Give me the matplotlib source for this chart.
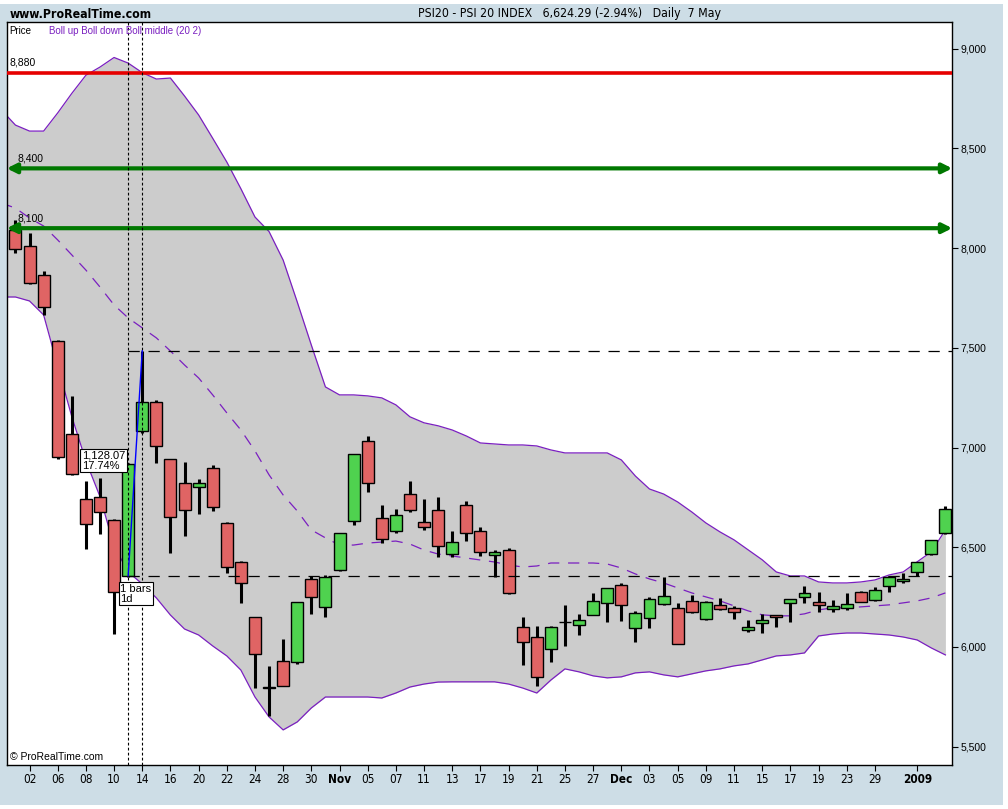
import numpy as np
import matplotlib
matplotlib.use("Agg")
import matplotlib.pyplot as plt
from matplotlib.patches import Rectangle

# daily candles (PSI 20), one per trading day
opens = [8091, 8011, 7864, 7534, 7067, 6742, 6751, 6637, 6356, 7083,
         7227, 6941, 6821, 6801, 6896, 6620, 6428, 6149, 5798, 5930,
         5926, 6339, 6199, 6385, 6630, 7034, 6645, 6580, 6767, 6625,
         6687, 6465, 6710, 6580, 6460, 6486, 6099, 6052, 5988, 6126,
         6109, 6162, 6219, 6311, 6094, 6144, 6214, 6197, 6229, 6140,
         6209, 6194, 6085, 6119, 6158, 6219, 6252, 6226, 6189, 6194,
         6278, 6233, 6306, 6329, 6375, 6465, 6570]
highs = [8141, 8074, 7885, 7540, 7259, 6830, 6847, 6640, 6920, 7485,
         7240, 6945, 6929, 6841, 6913, 6628, 6432, 6152, 5905, 6040,
         6226, 6356, 6360, 6572, 6968, 7058, 6712, 6690, 6832, 6742,
         6754, 6582, 6732, 6603, 6484, 6494, 6149, 6105, 6104, 6210,
         6165, 6272, 6296, 6319, 6181, 6249, 6349, 6219, 6261, 6231,
         6244, 6207, 6135, 6165, 6160, 6241, 6306, 6276, 6236, 6269,
         6280, 6299, 6355, 6369, 6427, 6538, 6707]
lows = [7974, 7820, 7665, 6945, 6860, 6490, 6565, 6064, 6352, 7075,
        6924, 6470, 6558, 6665, 6683, 6373, 6219, 5793, 5654, 5804,
        5916, 6164, 6149, 6383, 6610, 6779, 6520, 6573, 6678, 6587,
        6453, 6450, 6533, 6458, 6349, 6267, 5910, 5806, 5926, 6005,
        6059, 6160, 6127, 6132, 6027, 6097, 6212, 6013, 6169, 6135,
        6184, 6139, 6077, 6069, 6099, 6127, 6219, 6177, 6174, 6186,
        6225, 6231, 6277, 6322, 6356, 6463, 6568]
closes = [7994, 7827, 7706, 6951, 6866, 6615, 6676, 6277, 6916, 7227,
          7006, 6650, 6687, 6821, 6700, 6403, 6319, 5963, 5796, 5806,
          6224, 6249, 6353, 6570, 6966, 6821, 6540, 6663, 6685, 6600,
          6505, 6525, 6570, 6475, 6478, 6269, 6024, 5848, 6102, 6124,
          6135, 6229, 6294, 6209, 6169, 6239, 6256, 6016, 6174, 6224,
          6189, 6174, 6099, 6135, 6152, 6239, 6272, 6209, 6206, 6214,
          6227, 6286, 6353, 6339, 6425, 6536, 6690]

# Bollinger (20, 2), starting one day before the first candle
boll_up = [8693, 8617, 8587, 8587, 8678, 8776, 8867, 8908, 8956, 8928,
           8880, 8848, 8853, 8763, 8668, 8551, 8432, 8298, 8156, 8083,
           7940, 7730, 7514, 7304, 7264, 7264, 7259, 7249, 7214, 7154,
           7124, 7109, 7088, 7058, 7023, 7018, 7013, 7013, 7008, 6988,
           6973, 6973, 6973, 6973, 6938, 6857, 6792, 6767, 6727, 6677,
           6622, 6577, 6537, 6487, 6437, 6376, 6356, 6356, 6326, 6321,
           6321, 6326, 6336, 6361, 6376, 6427, 6477, 6587]
boll_down = [7755, 7755, 7735, 7665, 7408, 7155, 6933, 6754, 6506, 6376,
             6316, 6246, 6160, 6090, 6060, 6005, 5955, 5884, 5749, 5649,
             5584, 5624, 5694, 5749, 5749, 5749, 5749, 5744, 5769, 5799,
             5814, 5824, 5825, 5825, 5825, 5825, 5814, 5794, 5769, 5834,
             5890, 5875, 5855, 5845, 5850, 5870, 5875, 5860, 5850, 5865,
             5880, 5890, 5905, 5915, 5935, 5955, 5960, 5970, 6055, 6065,
             6070, 6070, 6065, 6060, 6050, 6035, 5995, 5960]
boll_mid = [8226, 8201, 8151, 8111, 8041, 7966, 7890, 7805, 7715, 7650,
            7600, 7550, 7484, 7414, 7349, 7264, 7174, 7088, 6983, 6863,
            6762, 6682, 6587, 6547, 6511, 6511, 6521, 6526, 6531, 6516,
            6486, 6466, 6456, 6446, 6436, 6426, 6411, 6401, 6406, 6421,
            6421, 6421, 6421, 6416, 6396, 6366, 6341, 6321, 6296, 6271,
            6251, 6231, 6206, 6181, 6161, 6156, 6156, 6166, 6186, 6196,
            6196, 6201, 6206, 6211, 6221, 6231, 6246, 6271]

date_labels = ['02', '06', '08', '10', '14', '16', '20', '22', '24', '28', '30',
               'Nov', '05', '07', '11', '13', '17', '19', '21', '25', '27',
               'Dec', '03', '05', '09', '11', '15', '17', '19', '23', '29', '2009']
date_pos = list(range(1, 62, 2)) + [64]

resistance = 8880
supports = [8400, 8100]
measure_low, measure_high = 6357, 7485

narrow = dict(family='DejaVu Sans', stretch='condensed')
arial = ['Liberation Sans', 'DejaVu Sans']
bg = '#cddde6'
purple = '#7a1fc0'
green_line = '#007800'

fig = plt.figure(figsize=(10.08, 8.09), dpi=100)
fig.patch.set_facecolor('white')
fig.patches.append(Rectangle((0, 4 / 809), 1003 / 1008, 801 / 809, transform=fig.transFigure,
                             facecolor=bg, edgecolor='none', zorder=-10))
ax = fig.add_axes([6.7 / 1008, 1 - 765 / 809, (952.3 - 6.7) / 1008, (765 - 22) / 809])
ax.set_facecolor('white')

idx = np.arange(len(opens))
o = np.array(opens)
c = np.array(closes)
band_x = np.arange(-1, len(boll_up) - 1)

# bands
ax.fill_between(band_x, boll_down, boll_up, color='#cccccc', lw=0, zorder=0)
ax.plot(band_x, boll_up, color=purple, lw=0.9, zorder=1)
ax.plot(band_x, boll_down, color=purple, lw=0.9, zorder=1)
ax.plot(band_x, boll_mid, color=purple, lw=0.9, ls=(0, (9, 7)), zorder=1)

# candles
colors = np.where(c >= o, '#4fd24f', '#e06464')
ax.vlines(idx, lows, highs, color='black', lw=2.2, zorder=2)
ax.bar(idx, c - o, bottom=o, width=0.85, color=colors, edgecolor='black', lw=1, zorder=3)

# horizontal levels
ax.axhline(resistance, color='#e60000', lw=2.6, zorder=4)
ax.text(0.003, resistance + 25, '8,880', transform=ax.get_yaxis_transform(),
        fontsize=7.5, family=arial, va='bottom', ha='left', zorder=5)
for lvl in supports:
    ax.annotate('', xy=(1, lvl), xytext=(0, lvl), xycoords=('axes fraction', 'data'),
                arrowprops=dict(arrowstyle='<|-|>', color=green_line, lw=3,
                                mutation_scale=14, shrinkA=0, shrinkB=0), zorder=4)
    ax.text(0.011, lvl + 25, f'{lvl:,}', transform=ax.get_yaxis_transform(),
            fontsize=7.5, family=arial, va='bottom', ha='left', zorder=5)

# measuring tool
ax.hlines([measure_high, measure_low], 8, 66.6, colors='black', lw=0.9,
          linestyles=(0, (9, 7)), zorder=4)
for xv in (8, 9):
    ax.axvline(xv, color='black', lw=0.8, ls=(0, (2.5, 2)), zorder=4)
ax.plot([8, 9], [measure_low, measure_high], color='blue', lw=1, zorder=5)
box = dict(boxstyle='square,pad=0.15', facecolor='white', edgecolor='black', lw=0.8)
ax.text(4.72, 6985, '1,128.07\n17.74%', fontsize=8, family=arial, va='top', ha='left',
        linespacing=1.0, bbox=box, zorder=6)
ax.text(7.45, 6318, '1 bars\n1d', fontsize=8, family=arial, va='top', ha='left',
        linespacing=1.0, bbox=box, zorder=6)

ax.text(0.003, 0.995, 'Price', transform=ax.transAxes, fontsize=7, family=arial,
        va='top', ha='left', zorder=6)
ax.text(0.045, 0.995, 'Boll up Boll down Boll middle (20 2)', transform=ax.transAxes,
        fontsize=7, family=arial, color=purple, va='top', ha='left', zorder=6)
ax.text(0.003, 0.004, '\u00a9 ProRealTime.com', transform=ax.transAxes, fontsize=7.5,
        family=arial, va='bottom', ha='left', zorder=6)

# axes
ax.set_xlim(-0.62, 66.49)
ax.set_ylim(5408, 9134)
ax.yaxis.tick_right()
ax.set_yticks(np.arange(5500, 9001, 500))
ax.set_yticklabels([f'{v:,}' for v in range(5500, 9001, 500)], family=arial, fontsize=7.5)
ax.tick_params(axis='y', direction='out', length=4, width=0.8, pad=2)
ax.set_xticks(date_pos)
ax.set_xticklabels(date_labels, fontsize=8.5, **narrow)
for lab in ax.get_xticklabels():
    if lab.get_text() in ('Nov', 'Dec', '2009'):
        lab.set_fontweight('bold')
ax.tick_params(axis='x', direction='out', length=4, width=0.8, pad=2)
for s in ax.spines.values():
    s.set_linewidth(1)

fig.text(10 / 1008, 1 - 14 / 809, 'www.ProRealTime.com', fontsize=8.8,
         fontweight='bold', va='center', ha='left', **narrow)
fig.text(569 / 1008, 1 - 14 / 809, 'PSI20 - PSI 20 INDEX   6,624.29 (-2.94%)   Daily  7 May',
         fontsize=8.8, va='center', ha='center', **narrow)

fig.savefig('out.png', dpi=100, facecolor=fig.get_facecolor())
